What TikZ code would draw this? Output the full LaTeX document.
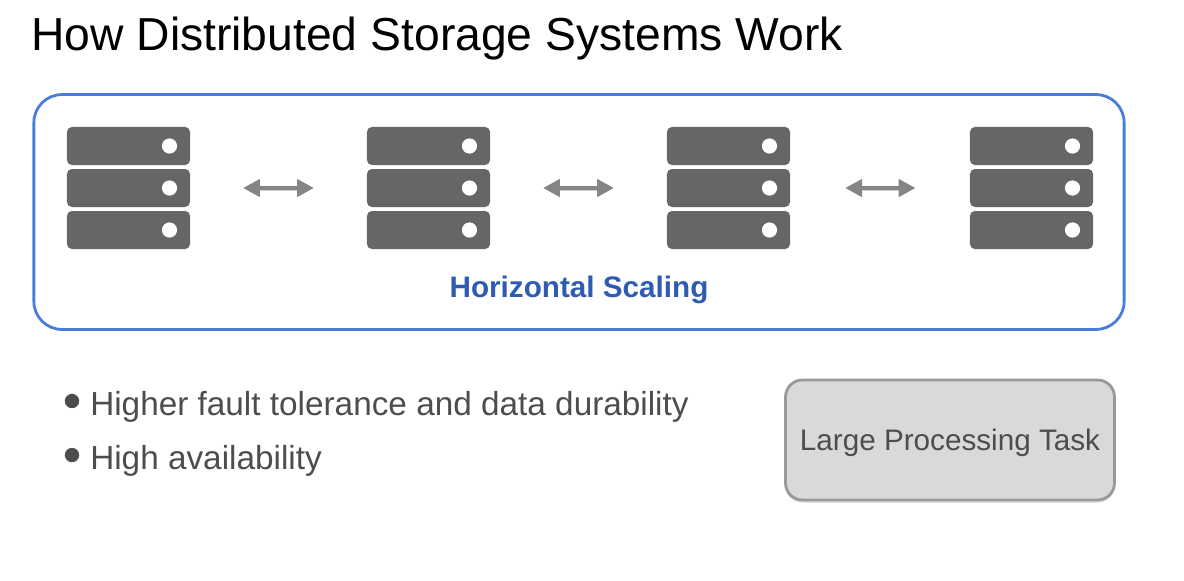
\documentclass[tikz,border=0pt]{standalone}
\usepackage{fontspec}
\setmainfont{Liberation Sans}
\usetikzlibrary{arrows.meta,shadows}
\definecolor{rackgray}{HTML}{666666}
\definecolor{linkgray}{HTML}{858585}
\definecolor{clusterblue}{HTML}{4A7CDC}
\definecolor{labelblue}{HTML}{2F5CB2}
\definecolor{bodygray}{HTML}{4D4D4D}
\tikzset{
  rack/.style={fill=rackgray,rounded corners=3.5pt,inner sep=0pt,minimum width=3.075cm,minimum height=0.95cm},
  led/.style={circle,fill=white,inner sep=0pt,minimum size=0.38cm},
  link/.style={{Triangle[width=12pt,length=12pt]}-{Triangle[width=12pt,length=12pt]},line width=3pt,linkgray,
    preaction={draw=black!18,transform canvas={yshift=-1.5pt}}},
  bullet/.style={circle,fill=bodygray,inner sep=0pt,minimum size=0.36cm},
  bodytext/.style={anchor=base west,inner sep=0pt,text=bodygray,font=\fontsize{23.7}{28}\selectfont}
}
\begin{document}
\begin{tikzpicture}[x=0.025cm,y=-0.025cm]
\useasboundingbox (0,0) rectangle (1184,580);
\node[anchor=base west,inner sep=0pt,font=\fontsize{32.9}{40}\selectfont] (title) at (31,50) {How Distributed Storage Systems Work};
\node[draw=clusterblue,line width=2pt,rounded corners=20pt,minimum width=27.25cm,minimum height=5.87cm,inner sep=0pt] (cluster) at (579,212) {};
% servers, one stack of three racks each
\foreach \name/\x in {srvA/128.5,srvB/428.5,srvC/728.5,srvD/1031.5}{
  \node[inner sep=0pt,minimum width=3.075cm,minimum height=3.05cm] (\name) at (\x,188) {};
  \foreach \rk/\y in {top/146,mid/188,bot/230}{
    \node[rack] (\name-\rk) at (\x,\y) {};
    \node[led] (\name-\rk-led) at (\x+41,\y) {};
  }
}
\draw[link,shorten <=37.5pt,shorten >=37.5pt] (srvA) -- (srvB);
\draw[link,shorten <=37.5pt,shorten >=37.5pt] (srvB) -- (srvC);
\draw[link,shorten <=39pt,shorten >=38.5pt] (srvC) -- (srvD);
\node[text=labelblue,inner sep=0pt,font=\fontsize{21.1}{24}\selectfont\bfseries] (scaling) at (579,290) {Horizontal Scaling};
\node[bullet] (dotA) at (72,401) {};
\node[bodytext] (durability) at (90,415) {Higher fault tolerance and data durability};
\node[bullet] (dotB) at (72,455) {};
\node[bodytext] (availability) at (90,469) {High availability};
\node[draw=black!40,line width=2pt,fill=black!15,rounded corners=12pt,minimum width=8.22cm,minimum height=3cm,inner sep=0pt,
  drop shadow={shadow xshift=0pt,shadow yshift=-2pt,opacity=.25}] (task) at (950,440) {};
\node[inner sep=0pt,text=bodygray,font=\fontsize{21.1}{26}\selectfont] (tasktext) at (950,443) {Large Processing Task};
\end{tikzpicture}
\end{document}
